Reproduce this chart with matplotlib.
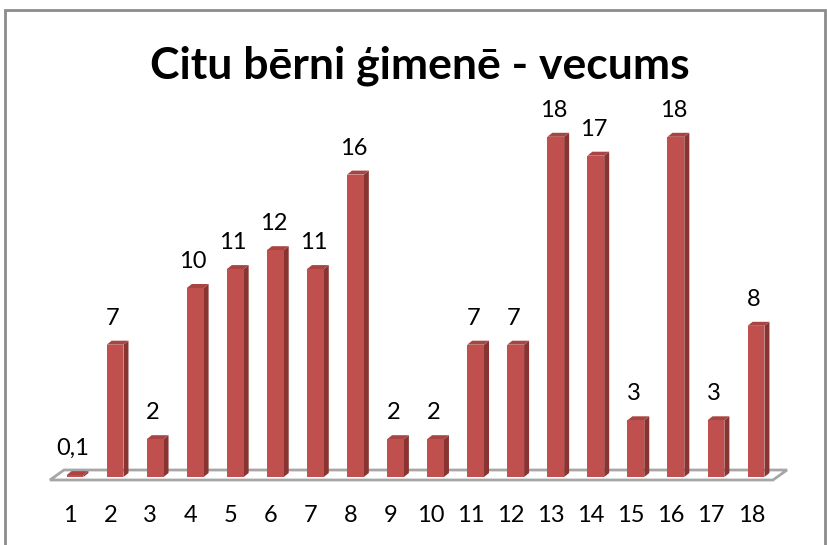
import matplotlib
matplotlib.use("Agg")
import matplotlib.pyplot as plt
from matplotlib.patches import Polygon, Rectangle

categories = [str(i) for i in range(1, 19)]
values = [0.1, 7, 2, 10, 11, 12, 11, 16, 2, 2, 7, 7, 18, 17, 3, 18, 3, 8]
value_labels = ["0,1", "7", "2", "10", "11", "12", "11", "16", "2", "2",
                "7", "7", "18", "17", "3", "18", "3", "8"]
title = "Citu bērni ģimenē - vecums"

plt.rcParams['font.family'] = ['Lato', 'DejaVu Sans']

W, H = 827, 545
fig = plt.figure(figsize=(W / 100, H / 100), dpi=100)

# axes placement (pixels)
px_per_x = 40.06
px_per_y = 18.9
xlim = (0.3, 19.2)
ylim = (-1.0, 20.0)
ax_left_px = 75 - (1 - xlim[0]) * px_per_x
ax_w_px = (xlim[1] - xlim[0]) * px_per_x
ax_bottom_px = 68 + ylim[0] * px_per_y
ax_h_px = (ylim[1] - ylim[0]) * px_per_y
ax = fig.add_axes([ax_left_px / W, ax_bottom_px / H, ax_w_px / W, ax_h_px / H])
ax.set_xlim(*xlim)
ax.set_ylim(*ylim)
ax.axis('off')

xs = list(range(1, len(values) + 1))
bw = 0.42
ddx = 5 / px_per_x
ddy = 4 / px_per_y

front_c = '#C0504D'
side_c = '#8A3432'
top_c = '#A84542'

# floor
f_front_y = -3 / px_per_y
f_back_y = 7 / px_per_y
f_l = (50 - 75) / px_per_x + 1
f_r = (773 - 75) / px_per_x + 1
f_off = 14 / px_per_x
floor = Polygon([(f_l, f_front_y), (f_r, f_front_y), (f_r + f_off, f_back_y),
                 (f_l + f_off, f_back_y)], closed=True, facecolor='white',
                edgecolor='#A6A6A6', lw=2, zorder=1)
ax.add_patch(floor)

bars = ax.bar(xs, values, width=bw, color=front_c, zorder=3, linewidth=0)
for x, v in zip(xs, values):
    xr = x + bw / 2
    xl = x - bw / 2
    side = Polygon([(xr, 0), (xr + ddx, ddy), (xr + ddx, v + ddy), (xr, v)],
                   closed=True, facecolor=side_c, edgecolor='none', zorder=2)
    top = Polygon([(xl, v), (xr, v), (xr + ddx, v + ddy), (xl + ddx, v + ddy)],
                  closed=True, facecolor=top_c, edgecolor='none', zorder=2)
    ax.add_patch(side)
    ax.add_patch(top)

for x, v, lab in zip(xs, values, value_labels):
    ax.text(x - 0.05, v + 1.4, lab, ha='center', va='center', fontsize=17,
            color='black', zorder=5)

for x, c in zip(xs, categories):
    ax.text(x - 0.12, -2.05, c, ha='center', va='center', fontsize=17,
            color='black')

fig.text(420 / W, 1 - 66 / H, title, ha='center', va='center', fontsize=32,
         fontweight='bold', color='black')

# chart border
fig.add_artist(Rectangle((5 / W, -0.05), (825 - 5) / W, 1.05 - 10 / H + 0.0,
                         transform=fig.transFigure, fill=False,
                         edgecolor='#8C8C8C', lw=2))

fig.savefig('out.png', dpi=100, facecolor='white')
